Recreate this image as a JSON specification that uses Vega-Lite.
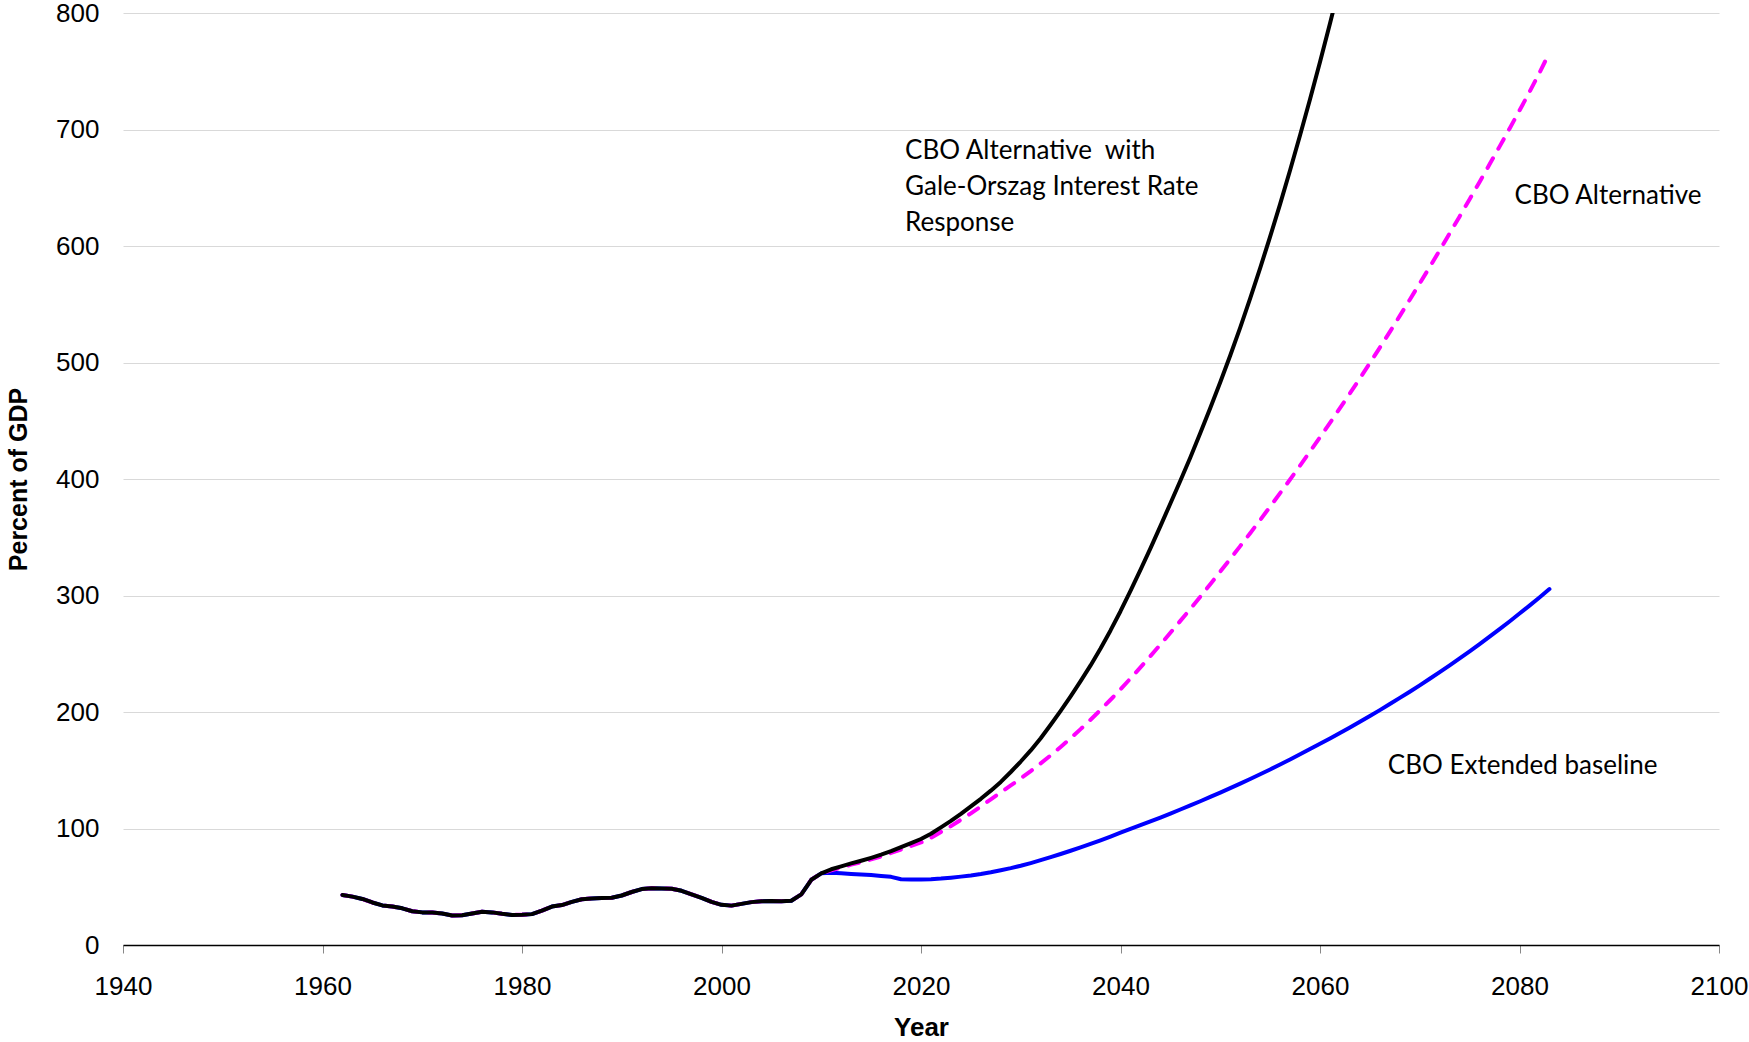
{
  "$schema": "https://vega.github.io/schema/vega-lite/v6.json",
  "width": 1596,
  "height": 932,
  "autosize": {"type": "none"},
  "padding": {"left": 123, "top": 13, "right": 30, "bottom": 97},
  "background": "white",
  "config": {"view": {"stroke": null}},
  "datasets": {
    "debt": [
      {"year":1962,"base":43,"alt":43,"go":43},
      {"year":1963,"base":41.5,"alt":41.5,"go":41.5},
      {"year":1964,"base":39.5,"alt":39.5,"go":39.5},
      {"year":1965,"base":36.5,"alt":36.5,"go":36.5},
      {"year":1966,"base":34,"alt":34,"go":34},
      {"year":1967,"base":33,"alt":33,"go":33},
      {"year":1968,"base":31.5,"alt":31.5,"go":31.5},
      {"year":1969,"base":29,"alt":29,"go":29},
      {"year":1970,"base":28,"alt":28,"go":28},
      {"year":1971,"base":27.8,"alt":27.8,"go":27.8},
      {"year":1972,"base":27,"alt":27,"go":27},
      {"year":1973,"base":25.3,"alt":25.3,"go":25.3},
      {"year":1974,"base":25.5,"alt":25.5,"go":25.5},
      {"year":1975,"base":27,"alt":27,"go":27},
      {"year":1976,"base":28.5,"alt":28.5,"go":28.5},
      {"year":1977,"base":28,"alt":28,"go":28},
      {"year":1978,"base":26.8,"alt":26.8,"go":26.8},
      {"year":1979,"base":25.8,"alt":25.8,"go":25.8},
      {"year":1980,"base":26,"alt":26,"go":26},
      {"year":1981,"base":26.5,"alt":26.5,"go":26.5},
      {"year":1982,"base":29.5,"alt":29.5,"go":29.5},
      {"year":1983,"base":33,"alt":33,"go":33},
      {"year":1984,"base":34.3,"alt":34.3,"go":34.3},
      {"year":1985,"base":37,"alt":37,"go":37},
      {"year":1986,"base":39.3,"alt":39.3,"go":39.3},
      {"year":1987,"base":40,"alt":40,"go":40},
      {"year":1988,"base":40.3,"alt":40.3,"go":40.3},
      {"year":1989,"base":40.5,"alt":40.5,"go":40.5},
      {"year":1990,"base":42.5,"alt":42.5,"go":42.5},
      {"year":1991,"base":45.5,"alt":45.5,"go":45.5},
      {"year":1992,"base":48,"alt":48,"go":48},
      {"year":1993,"base":48.8,"alt":48.8,"go":48.8},
      {"year":1994,"base":48.5,"alt":48.5,"go":48.5},
      {"year":1995,"base":48.3,"alt":48.3,"go":48.3},
      {"year":1996,"base":46.5,"alt":46.5,"go":46.5},
      {"year":1997,"base":43.5,"alt":43.5,"go":43.5},
      {"year":1998,"base":40.5,"alt":40.5,"go":40.5},
      {"year":1999,"base":37,"alt":37,"go":37},
      {"year":2000,"base":34.5,"alt":34.5,"go":34.5},
      {"year":2001,"base":33.8,"alt":33.8,"go":33.8},
      {"year":2002,"base":35.3,"alt":35.3,"go":35.3},
      {"year":2003,"base":36.8,"alt":36.8,"go":36.8},
      {"year":2004,"base":37.5,"alt":37.5,"go":37.5},
      {"year":2005,"base":37.8,"alt":37.8,"go":37.8},
      {"year":2006,"base":37.6,"alt":37.6,"go":37.6},
      {"year":2007,"base":38,"alt":38,"go":38},
      {"year":2008,"base":43.5,"alt":43.5,"go":43.5},
      {"year":2009,"base":56,"alt":56,"go":56},
      {"year":2010,"base":61.5,"alt":61.5,"go":61.5},
      {"year":2011,"base":62,"alt":64,"go":65},
      {"year":2012,"base":61.5,"alt":66.5,"go":67.5},
      {"year":2013,"base":61,"alt":69,"go":70},
      {"year":2014,"base":60.5,"alt":71,"go":72.3},
      {"year":2015,"base":60,"alt":73.5,"go":74.8},
      {"year":2016,"base":59.3,"alt":76,"go":77.5},
      {"year":2017,"base":58.5,"alt":79,"go":80.5},
      {"year":2018,"base":56.5,"alt":82,"go":84},
      {"year":2019,"base":56.3,"alt":85,"go":87.5},
      {"year":2020,"base":56.3,"alt":88,"go":91},
      {"year":2021,"base":56.5,"alt":92,"go":95.5},
      {"year":2022,"base":57,"alt":97,"go":101},
      {"year":2023,"base":57.8,"alt":102,"go":106.5},
      {"year":2024,"base":58.7,"alt":107.5,"go":112.5},
      {"year":2025,"base":59.7,"alt":113,"go":119},
      {"year":2026,"base":61,"alt":119,"go":125.5},
      {"year":2027,"base":62.5,"alt":125,"go":132.5},
      {"year":2028,"base":64.2,"alt":131,"go":140},
      {"year":2029,"base":66,"alt":137,"go":148.5},
      {"year":2030,"base":68,"alt":143,"go":157.5},
      {"year":2031,"base":70.3,"alt":149.3,"go":167},
      {"year":2032,"base":72.8,"alt":155.9,"go":177.5},
      {"year":2033,"base":75.4,"alt":162.8,"go":189},
      {"year":2034,"base":78.1,"alt":170,"go":201},
      {"year":2035,"base":80.9,"alt":177.5,"go":213.5},
      {"year":2036,"base":83.8,"alt":185.3,"go":226.5},
      {"year":2037,"base":86.8,"alt":193.4,"go":240},
      {"year":2038,"base":89.9,"alt":201.8,"go":254.5},
      {"year":2039,"base":93.1,"alt":210.5,"go":270},
      {"year":2040,"base":96.4,"alt":219.5,"go":286.5},
      {"year":2041,"base":99.6,"alt":228.8,"go":304},
      {"year":2042,"base":102.8,"alt":238.3,"go":322},
      {"year":2043,"base":106.1,"alt":248,"go":340.5},
      {"year":2044,"base":109.4,"alt":257.9,"go":359.5},
      {"year":2045,"base":112.8,"alt":268,"go":379},
      {"year":2046,"base":116.3,"alt":278.2,"go":398.5},
      {"year":2047,"base":119.8,"alt":288.5,"go":418.5},
      {"year":2048,"base":123.4,"alt":299,"go":439.5},
      {"year":2049,"base":127.1,"alt":309.7,"go":461},
      {"year":2050,"base":130.8,"alt":320.5,"go":483},
      {"year":2051,"base":134.6,"alt":331.4,"go":506},
      {"year":2052,"base":138.5,"alt":342.4,"go":530},
      {"year":2053,"base":142.5,"alt":353.5,"go":555},
      {"year":2054,"base":146.6,"alt":364.8,"go":581},
      {"year":2055,"base":150.7,"alt":376.3,"go":608},
      {"year":2056,"base":155,"alt":387.9,"go":636},
      {"year":2057,"base":159.3,"alt":399.6,"go":665},
      {"year":2058,"base":163.7,"alt":411.5,"go":695},
      {"year":2059,"base":168.2,"alt":423.6,"go":726},
      {"year":2060,"base":172.7,"alt":435.8,"go":758},
      {"year":2061,"base":177.3,"alt":448.2,"go":791},
      {"year":2062,"base":182,"alt":460.8,"go":825},
      {"year":2063,"base":186.7,"alt":473.5,"go":860},
      {"year":2064,"base":191.6,"alt":486.4},
      {"year":2065,"base":196.5,"alt":499.5},
      {"year":2066,"base":201.6,"alt":512.8},
      {"year":2067,"base":206.8,"alt":526.3},
      {"year":2068,"base":212.1,"alt":540},
      {"year":2069,"base":217.4,"alt":553.9},
      {"year":2070,"base":222.9,"alt":567.9},
      {"year":2071,"base":228.5,"alt":582},
      {"year":2072,"base":234.3,"alt":596.3},
      {"year":2073,"base":240.1,"alt":610.8},
      {"year":2074,"base":246.1,"alt":625.4},
      {"year":2075,"base":252.1,"alt":640.1},
      {"year":2076,"base":258.3,"alt":655},
      {"year":2077,"base":264.7,"alt":670.1},
      {"year":2078,"base":271.1,"alt":685.3},
      {"year":2079,"base":277.7,"alt":700.7},
      {"year":2080,"base":284.5,"alt":716.3},
      {"year":2081,"base":291.3,"alt":732.2},
      {"year":2082,"base":298.3,"alt":748.6},
      {"year":2083,"base":305.5,"alt":766}
    ],
    "labels": [
      {"label":"CBO Alternative\u00a0 with","year":2018.4,"value":674.5},
      {"label":"Gale-Orszag Interest Rate","year":2018.4,"value":643.8},
      {"label":"Response","year":2018.4,"value":612.8},
      {"label":"CBO Alternative","year":2079.5,"value":636},
      {"label":"CBO Extended baseline","year":2066.8,"value":146.5}
    ]
  },
  "encoding": {
    "x": {
      "field": "year", "type": "quantitative",
      "scale": {"domain": [1940, 2100], "nice": false, "zero": false},
      "axis": {
        "title": "Year", "values": [1940,1960,1980,2000,2020,2040,2060,2080,2100],
        "format": "d", "grid": false,
        "domainColor": "black", "domainWidth": 1.5,
        "tickColor": "#888888", "tickSize": 8, "tickWidth": 1,
        "labelFont": "Liberation Sans", "labelFontSize": 26, "labelColor": "black",
        "labelPadding": 20, "labelFlush": false, "labelOverlap": false,
        "titleFont": "Liberation Sans", "titleFontSize": 26, "titleFontWeight": "bold",
        "titleColor": "black", "titlePadding": 15
      }
    }
  },
  "layer": [
    {
      "data": {"name": "debt"},
      "mark": {"type": "line", "color": "#0000FF", "strokeWidth": 4, "strokeCap": "round", "strokeJoin": "round", "clip": true},
      "encoding": {
        "y": {
          "field": "base", "type": "quantitative",
          "scale": {"domain": [0, 800], "nice": false},
          "axis": {
            "title": "Percent of GDP", "values": [0,100,200,300,400,500,600,700,800],
            "domain": false, "ticks": false, "grid": true, "gridColor": "#d9d9d9", "gridWidth": 1,
            "labelFont": "Liberation Sans", "labelFontSize": 26, "labelColor": "black", "labelPadding": 24,
            "titleFont": "Liberation Sans", "titleFontSize": 25, "titleFontWeight": "bold",
            "titleColor": "black", "titlePadding": 24
          }
        }
      }
    },
    {
      "data": {"name": "debt"},
      "mark": {"type": "line", "color": "#FF00FF", "strokeWidth": 4, "strokeDash": [11, 11], "strokeCap": "round", "strokeJoin": "round", "clip": true},
      "encoding": {"y": {"field": "alt", "type": "quantitative"}}
    },
    {
      "data": {"name": "debt"},
      "mark": {"type": "line", "color": "#000000", "strokeWidth": 4, "strokeCap": "round", "strokeJoin": "round", "clip": true},
      "encoding": {"y": {"field": "go", "type": "quantitative"}}
    },
    {
      "data": {"name": "labels"},
      "mark": {"type": "text", "align": "left", "baseline": "alphabetic", "font": "Lato", "fontSize": 26, "color": "black"},
      "encoding": {
        "y": {"field": "value", "type": "quantitative"},
        "text": {"field": "label"}
      }
    }
  ]
}
